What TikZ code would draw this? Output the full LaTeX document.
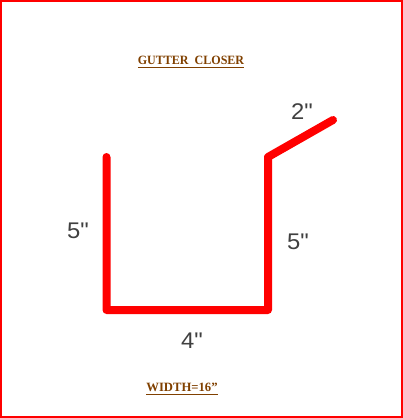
\documentclass[tikz,border=0pt]{standalone}
\usepackage{fontspec}
\setmainfont{Liberation Serif}
\newfontfamily\dimfont{Liberation Sans}
\usetikzlibrary{positioning}
\definecolor{titlebrown}{RGB}{128,64,0}
\begin{document}
\begin{tikzpicture}[
    x=0.75pt, y=-0.75pt,
    title/.style={text=titlebrown, font=\bfseries\fontsize{9.5}{11}\selectfont, inner sep=0pt},
    dim/.style={text=black!75, font=\dimfont\fontsize{17}{20}\selectfont, inner sep=0pt},
    sheet/.style={draw=red, line width=6pt, line cap=round, line join=round}
]
\useasboundingbox (0,0) rectangle (403,418);
\draw[red, line width=1.5pt] (1,1) rectangle (402,417);

\coordinate (topleft) at (106.5,157);
\coordinate (botleft) at (106.5,310);
\coordinate (botright) at (268,310);
\coordinate (topright) at (268,157);
\coordinate (lip) at (333,120);
\draw[sheet] (topleft) -- (botleft) -- (botright) -- (topright) -- (lip);

\node[title] (gutter) at (191,62) {\underline{\scalebox{0.95}[1]{GUTTER\ \ CLOSER}}};
\node[title] (width) at (182,389) {\underline{WIDTH=16''}};

\node[dim] (leftdim) at (78,231) {\scalebox{1.05}[1]{5"}};
\node[dim] (rightdim) at (298,242) {\scalebox{1.05}[1]{5"}};
\node[dim] (botdim) at (192,341) {\scalebox{1.05}[1]{4"}};
\node[dim] (lipdim) at (302,112) {\scalebox{1.05}[1]{2"}};
\end{tikzpicture}
\end{document}
